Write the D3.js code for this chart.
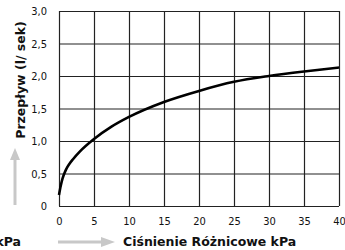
<!DOCTYPE html>
<html><head><meta charset="utf-8">
<script src="https://cdn.jsdelivr.net/npm/d3@7"></script>
<style>
html,body{margin:0;padding:0;background:#fff;overflow:hidden;}
svg{display:block;}
.lbl text{font-family:"DejaVu Sans Condensed","DejaVu Sans",sans-serif;font-size:11px;fill:#111;}
.grid line{stroke:#222;stroke-width:1.2px;}
.title{font-family:"DejaVu Sans","Verdana",sans-serif;font-weight:bold;font-size:12.5px;fill:#111;}
</style></head>
<body>
<script>
const pressure = [0, 0.25, 0.5, 1, 1.5, 2, 3, 5, 7.5, 10, 15, 20, 25, 30, 35, 40];
const flow = [0.17, 0.31, 0.42, 0.56, 0.65, 0.72, 0.84, 1.03, 1.22, 1.37, 1.6, 1.77, 1.91, 2.0, 2.07, 2.13];
const xTicks = [0, 5, 10, 15, 20, 25, 30, 35, 40];
const yTicks = [0, 0.5, 1.0, 1.5, 2.0, 2.5, 3.0];
const yTickLabels = ["0", "0,5", "1,0", "1,5", "2,0", "2,5", "3,0"];

const W = 345, H = 250;
const L = 59, R = 339, T = 11, B = 206;
const svg = d3.select("body").append("svg").attr("width", W).attr("height", H);

const x = d3.scaleLinear().domain([0, 40]).range([L, R]);
const y = d3.scaleLinear().domain([0, 3]).range([B, T]);

// grid via axes
const gx = svg.append("g").attr("class", "grid").attr("transform", `translate(0,${B})`)
  .call(d3.axisBottom(x).tickValues(xTicks).tickSize(-(B - T)).tickFormat(""));
gx.select(".domain").remove();
const gy = svg.append("g").attr("class", "grid").attr("transform", `translate(${L},0)`)
  .call(d3.axisLeft(y).tickValues(yTicks).tickSize(-(R - L)).tickFormat(""));
gy.select(".domain").remove();

// axes labels
const xAxis = svg.append("g").attr("class", "lbl").attr("transform", `translate(0,${B + 11})`)
  .call(d3.axisBottom(x).tickValues(xTicks).tickSize(0).tickPadding(0).tickFormat(d3.format("d")));
xAxis.select(".domain").remove();
xAxis.selectAll("text").attr("dy", "0.71em");

const yAxis = svg.append("g").attr("class", "lbl").attr("transform", `translate(${L - 12},0)`)
  .call(d3.axisLeft(y).tickValues(yTicks).tickSize(0).tickPadding(0).tickFormat((d, i) => yTickLabels[i]));
yAxis.select(".domain").remove();

// curve
svg.append("path").datum(pressure.map((p, i) => [p, flow[i]]))
  .attr("fill", "none").attr("stroke", "#000").attr("stroke-width", 2.6)
  .attr("d", d3.line().x(d => x(d[0])).y(d => y(d[1])).curve(d3.curveMonotoneX));

// titles
svg.append("text").attr("class", "title")
  .attr("transform", "translate(25,80) rotate(-90)").attr("text-anchor", "middle")
  .text("Przepływ (l/ sek)");
svg.append("text").attr("class", "title")
  .attr("x", 123).attr("y", 246).text("Ciśnienie Różnicowe kPa");
svg.append("text").attr("class", "title")
  .attr("x", 21).attr("y", 246).attr("text-anchor", "end").text("kPa");

// gray arrows
const arrowColor = "#c8c8c8";
svg.append("line").attr("x1", 15).attr("x2", 15).attr("y1", 205).attr("y2", 158)
  .attr("stroke", arrowColor).attr("stroke-width", 3);
svg.append("path").attr("d", "M10,160 L15,148 L20,160 Z").attr("fill", arrowColor);
svg.append("line").attr("x1", 58).attr("x2", 104).attr("y1", 242).attr("y2", 242)
  .attr("stroke", arrowColor).attr("stroke-width", 3);
svg.append("path").attr("d", "M101,237 L115,242 L101,247 Z").attr("fill", arrowColor);
</script>
</body></html>
